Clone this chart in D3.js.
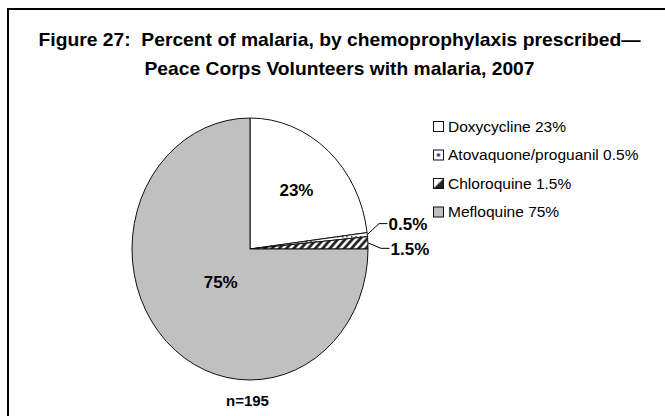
<!DOCTYPE html>
<html>
<head>
<meta charset="utf-8">
<script src="https://cdn.jsdelivr.net/npm/d3@7"></script>
<style>
  html, body { margin: 0; padding: 0; background: #fff; }
  svg { display: block; }
  text { font-family: "Liberation Sans", Arial, sans-serif; white-space: pre; }
</style>
</head>
<body>
<svg id="chart" width="665" height="416"></svg>
<script>
// ---- data ----
const titleLines = [
  "Figure 27:  Percent of malaria, by chemoprophylaxis prescribed\u2014",
  "Peace Corps Volunteers with malaria, 2007"
];
const categories = ["Doxycycline", "Atovaquone/proguanil", "Chloroquine", "Mefloquine"];
const values = [23, 0.5, 1.5, 75];
const sliceLabels = ["23%", "0.5%", "1.5%", "75%"];
const legendLabels = ["Doxycycline 23%", "Atovaquone/proguanil 0.5%", "Chloroquine 1.5%", "Mefloquine 75%"];
const sampleNote = "n=195";

// ---- layout ----
const svg = d3.select("#chart");
const W = 665, H = 416;
const cx = 250, cy = 249, ry = 131, rx = 118;
const sx = rx / ry;

const defs = svg.append("defs");
// atovaquone: white with small navy dots
const pDots = defs.append("pattern").attr("id", "dots")
  .attr("patternUnits", "userSpaceOnUse").attr("width", 5).attr("height", 5);
pDots.append("rect").attr("width", 5).attr("height", 5).attr("fill", "#fff");
pDots.append("rect").attr("x", 2).attr("y", 2).attr("width", 1.5).attr("height", 1.5).attr("fill", "#1a1a6e");
const pDotsL = defs.append("pattern").attr("id", "dotsL")
  .attr("patternUnits", "objectBoundingBox").attr("width", 1).attr("height", 1);
pDotsL.append("rect").attr("width", 10).attr("height", 10).attr("fill", "#fff");
pDotsL.append("rect").attr("x", 3.5).attr("y", 3.5).attr("width", 3).attr("height", 3).attr("fill", "#2a2a8a");
// chloroquine: diagonal stripes
const pStripe = defs.append("pattern").attr("id", "stripes")
  .attr("patternUnits", "userSpaceOnUse").attr("width", 8).attr("height", 8);
pStripe.append("rect").attr("width", 8).attr("height", 8).attr("fill", "#fff");
pStripe.append("path").attr("d", "M-2,2 L2,-2 M0,8 L8,0 M6,10 L10,6")
  .attr("stroke", "#222").attr("stroke-width", 3);
const pStripeL = defs.append("pattern").attr("id", "stripesL")
  .attr("patternUnits", "objectBoundingBox").attr("width", 1).attr("height", 1);
pStripeL.append("rect").attr("width", 10).attr("height", 10).attr("fill", "#fff");
pStripeL.append("path").attr("d", "M10,0 L10,10 L0,10 Z").attr("fill", "#222");

const fills = ["#ffffff", "url(#dots)", "url(#stripes)", "#c0c0c0"];
const legendFills = ["#ffffff", "url(#dotsL)", "url(#stripesL)", "#c0c0c0"];
const color = d3.scaleOrdinal().domain(categories).range(fills);
const legendColor = d3.scaleOrdinal().domain(categories).range(legendFills);

// frame (left and top edges visible)
svg.append("path").attr("d", `M8,${H} V9 H${W}`)
  .attr("fill", "none").attr("stroke", "#000").attr("stroke-width", 2);

// title
svg.append("g").selectAll("text").data(titleLines).join("text")
  .attr("x", 339.5)
  .attr("y", (d, i) => 46 + i * 29)
  .attr("text-anchor", "middle")
  .attr("font-weight", "bold")
  .attr("font-size", 19)
  .attr("fill", "#000")
  .attr("textLength", (d, i) => i === 0 ? 602 : 390)
  .attr("lengthAdjust", "spacingAndGlyphs")
  .text(d => d);

// pie
const pieData = d3.pie().sort(null).value(d => d.value)
  (categories.map((c, i) => ({ cat: c, value: values[i], label: sliceLabels[i] })));
const arc = d3.arc().innerRadius(0).outerRadius(ry);

const g = svg.append("g").attr("transform", `translate(${cx},${cy}) scale(${sx},1)`);
g.selectAll("path").data(pieData).join("path")
  .attr("d", arc)
  .attr("fill", d => color(d.data.cat))
  .attr("stroke", "#111")
  .attr("stroke-width", 1)
  .attr("vector-effect", "non-scaling-stroke");

function pt(a, r) {
  return [cx + Math.sin(a) * r * sx, cy - Math.cos(a) * r];
}

// inside labels
const insideR = { "Doxycycline": 78, "Mefloquine": 46 };
pieData.filter(d => insideR[d.data.cat] !== undefined).forEach(d => {
  const a = (d.startAngle + d.endAngle) / 2;
  const p = pt(a, insideR[d.data.cat]);
  svg.append("text")
    .attr("x", p[0]).attr("y", p[1] + 6)
    .attr("text-anchor", "middle")
    .attr("font-weight", "bold").attr("font-size", 17)
    .text(d.data.label);
});

// outside labels with leaders
const outside = { "Atovaquone/proguanil": -11, "Chloroquine": 5.5 };
pieData.filter(d => outside[d.data.cat] !== undefined).forEach(d => {
  const a = (d.startAngle + d.endAngle) / 2;
  const p0 = pt(a, ry);
  const ex = cx + rx + 11 + (outside[d.data.cat] > 0 ? 2 : 0);
  const ey = p0[1] + outside[d.data.cat];
  const hx = ex + 8.5;
  svg.append("path")
    .attr("d", `M${p0[0]},${p0[1]} L${ex},${ey} L${hx},${ey}`)
    .attr("fill", "none").attr("stroke", "#000").attr("stroke-width", 1);
  svg.append("text")
    .attr("x", hx + 1).attr("y", ey + 6.5)
    .attr("font-weight", "bold").attr("font-size", 17)
    .text(d.data.label);
});

// sample size
svg.append("text").attr("x", 247.5).attr("y", 405.5)
  .attr("text-anchor", "middle").attr("font-weight", "bold").attr("font-size", 15)
  .text(sampleNote);

// legend
const ly = d3.scalePoint().domain(categories).range([126, 211.5]);
const leg = svg.append("g").selectAll("g").data(categories).join("g")
  .attr("transform", d => `translate(433,${ly(d)})`);
leg.append("rect").attr("x", 0.5).attr("y", -4.5).attr("width", 10).attr("height", 10)
  .attr("fill", d => legendColor(d)).attr("stroke", "#111").attr("stroke-width", 1);
leg.append("text").attr("x", 15).attr("y", 5.5)
  .attr("font-size", 15.5).attr("fill", "#000")
  .text((d, i) => legendLabels[i]);
</script>
</body>
</html>
